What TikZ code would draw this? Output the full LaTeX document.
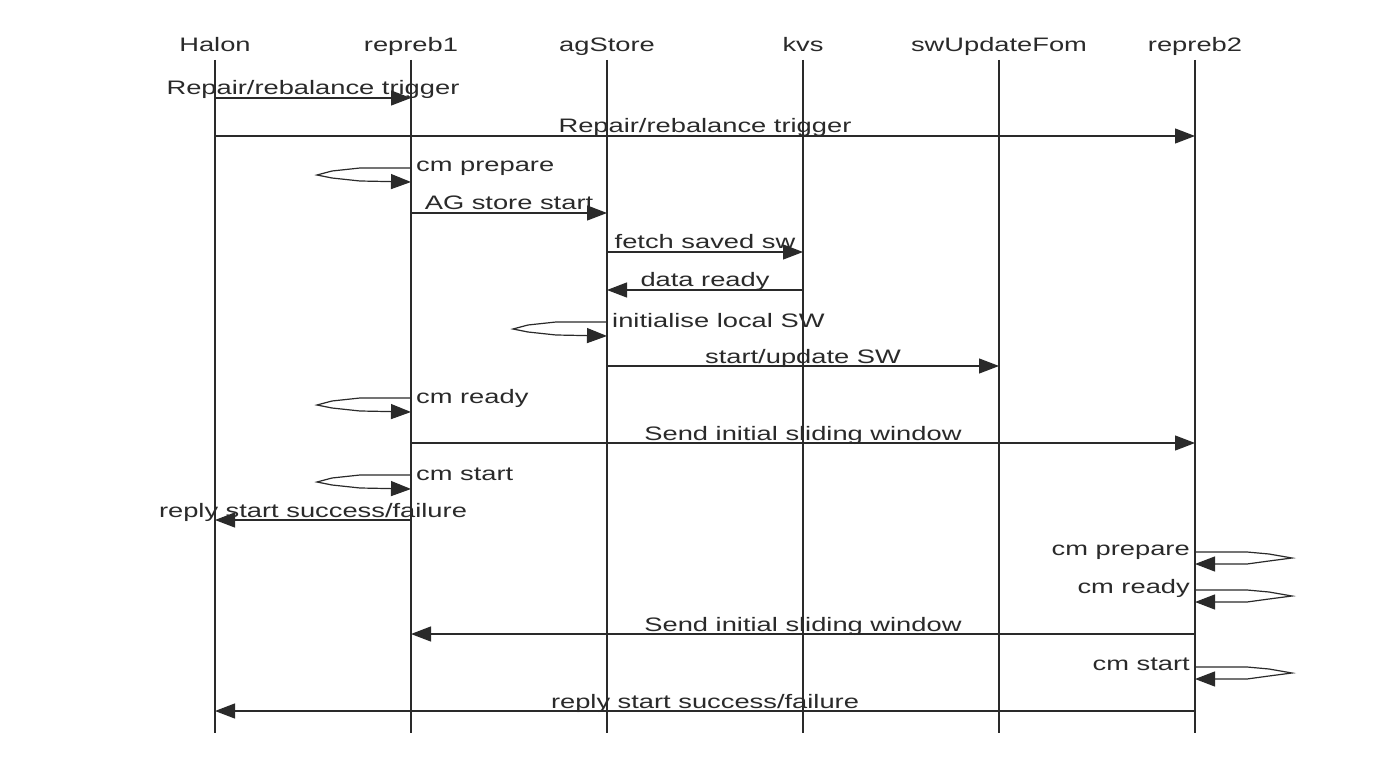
\documentclass[tikz,border=0pt]{standalone}
\usepackage{fontspec}
\setmainfont{Liberation Sans}[FakeStretch=1.4]
\usetikzlibrary{arrows.meta}
\definecolor{inkcol}{HTML}{2A2A2A}
\tikzset{
  lifeline/.style={line width=1.2pt, draw=inkcol},
  msg/.style={line width=1.2pt, draw=inkcol, -{Triangle[length=20pt,width=15pt]}},
  lbl/.style={font=\fontsize{19.5}{22}\selectfont, text=inkcol, inner sep=0pt},
}
\newcommand\myLoopL[3]{% name, x, y0
  \coordinate (#1s) at (#2,#3);
  \coordinate (#1e) at (#2,#3+14);
  \draw[msg] (#1s) -- ++(-51,0) -- ++(-28,3) -- ++(-15,4) -- ++(15,3) -- ++(28,3) -- (#1e);
}
\newcommand\myLoopR[3]{% name, x, y0
  \coordinate (#1s) at (#2,#3);
  \coordinate (#1e) at (#2,#3+12);
  \draw[msg] (#1s) -- ++(52,0) -- ++(22,2) -- ++(23,4) -- ++(-23,3) -- ++(-22,3) -- (#1e);
}
\begin{document}
\begin{tikzpicture}[x=1pt,y=-1pt]
\useasboundingbox (0,0) rectangle (1382,778);
\fill[white] (0,0) rectangle (1382,778);
\def\xH{215}\def\xA{411}\def\xG{607}\def\xK{803}\def\xS{999}\def\xB{1195}
% headers
\node[lbl,anchor=base] (hH) at (\xH,52) {Halon};
\node[lbl,anchor=base] (hA) at (\xA,52) {repreb1};
\node[lbl,anchor=base] (hG) at (\xG,52) {agStore};
\node[lbl,anchor=base] (hK) at (\xK,52) {kvs};
\node[lbl,anchor=base] (hS) at (\xS,52) {swUpdateFom};
\node[lbl,anchor=base] (hB) at (\xB,52) {repreb2};
% lifelines
\foreach \n/\x in {H/\xH,A/\xA,G/\xG,K/\xK,S/\xS,B/\xB}{
  \coordinate (t\n) at (\x,60);
  \coordinate (b\n) at (\x,733);
  \draw[lifeline] (t\n) -- (b\n);
}
% messages
\newcommand\myMsg[5]{% name, x1, x2, y, label
  \coordinate (#1a) at (#2,#4);
  \coordinate (#1b) at (#3,#4);
  \draw[msg] (#1a) -- node[lbl,anchor=base,yshift=3pt] {#5} (#1b);
}
\myMsg{m1}{\xH}{\xA}{98}{Repair/rebalance trigger}
\myMsg{m2}{\xH}{\xB}{136}{Repair/rebalance trigger}
\myLoopL{l1}{\xA}{168}
\node[lbl,anchor=base west] (l1t) at (\xA+5,172) {cm prepare};
\myMsg{m3}{\xA}{\xG}{213}{AG store start}
\myMsg{m4}{\xG}{\xK}{252}{fetch saved sw}
\myMsg{m5}{\xK}{\xG}{290}{data ready}
\myLoopL{l2}{\xG}{322}
\node[lbl,anchor=base west] (l2t) at (\xG+5,327) {initialise local SW};
\myMsg{m6}{\xG}{\xS}{366}{start/update SW}
\myLoopL{l3}{\xA}{398}
\node[lbl,anchor=base west] (l3t) at (\xA+5,403) {cm ready};
\myMsg{m7}{\xA}{\xB}{443}{Send initial sliding window}
\myLoopL{l4}{\xA}{475}
\node[lbl,anchor=base west] (l4t) at (\xA+5,480) {cm start};
\myMsg{m8}{\xA}{\xH}{520}{reply start success/failure}
\myLoopR{r1}{\xB}{552}
\node[lbl,anchor=base east] (r1t) at (\xB-5,555) {cm prepare};
\myLoopR{r2}{\xB}{590}
\node[lbl,anchor=base east] (r2t) at (\xB-5,593) {cm ready};
\myMsg{m9}{\xB}{\xA}{634}{Send initial sliding window}
\myLoopR{r3}{\xB}{667}
\node[lbl,anchor=base east] (r3t) at (\xB-5,670) {cm start};
\myMsg{m10}{\xB}{\xH}{711}{reply start success/failure}
\end{tikzpicture}
\end{document}
